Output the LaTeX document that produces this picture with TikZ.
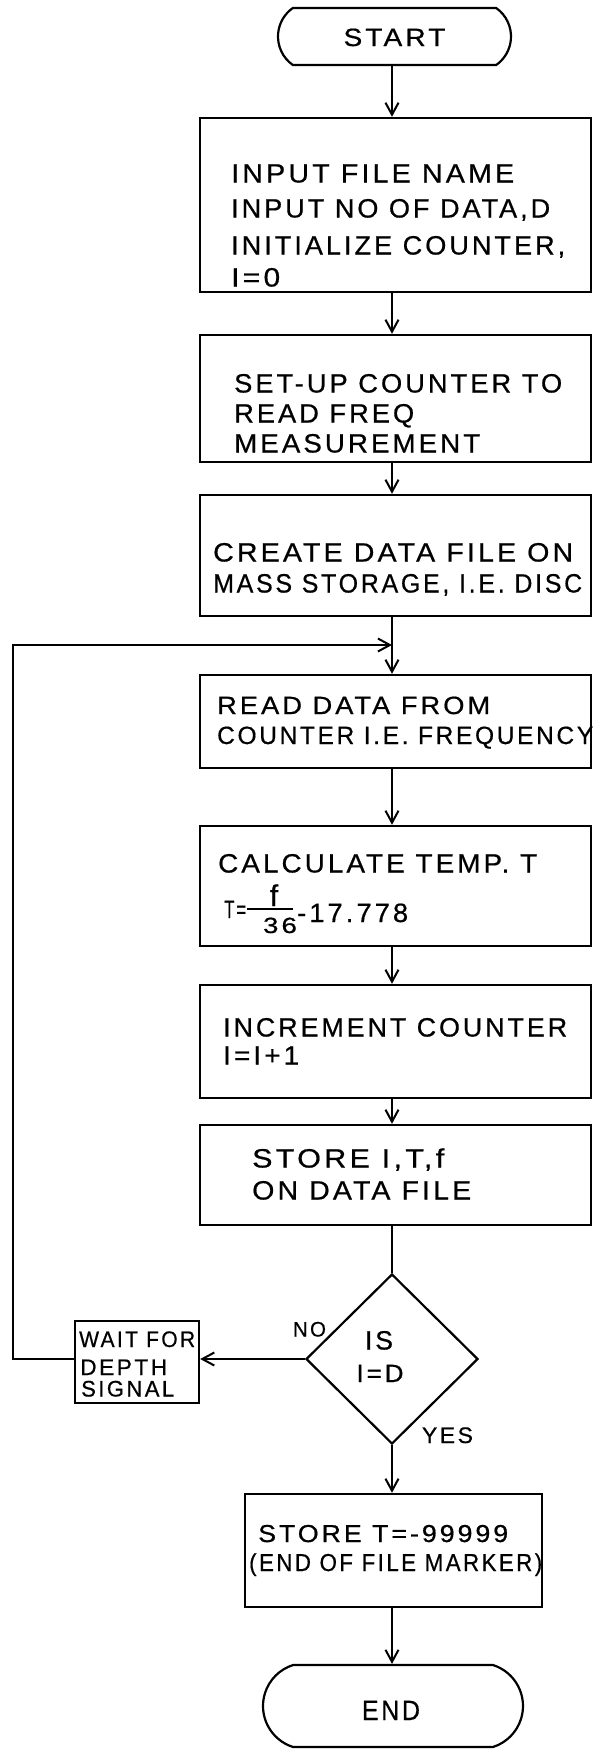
\documentclass[tikz,border=0pt]{standalone}
\usepackage{fontspec}
\usepackage{graphicx}
\newfontfamily\lett{Liberation Sans}[LetterSpace=11,FakeBold=0.6]
\usetikzlibrary{arrows.meta,shapes.geometric,shapes.misc}
\newcommand{\fw}[2]{\resizebox{#1pt}{\height}{#2}}
\begin{document}
\begin{tikzpicture}[x=1pt,y=-1pt,
  box/.style={draw, line width=2.4pt, inner sep=0pt},
  con/.style={line width=2pt},
  arr/.style={con, -{Straight Barb[length=12pt,width=13pt]}},
  txt/.style={anchor=base west, inner sep=0pt, font=\lett\fontsize{26.5pt}{30pt}\selectfont},
  txtm/.style={txt, font=\lett\fontsize{25pt}{30pt}\selectfont},
  txts/.style={txt, font=\lett\fontsize{24.5pt}{30pt}\selectfont},
  txtw/.style={txt, font=\lett\fontsize{22.5pt}{26pt}\selectfont},
  ctr/.style={anchor=base, inner sep=0pt}
]
\useasboundingbox (0,0) rectangle (593,1749);

% terminals, boxes, decision
\node[draw, rounded rectangle, rounded rectangle arc length=110, line width=2.2pt,
      minimum width=233pt, minimum height=57pt, inner sep=0pt] (start) at (394.5,36.5) {};
\node[box, minimum width=391pt, minimum height=174pt] (b1) at (395.5,205) {};
\node[box, minimum width=391pt, minimum height=127pt] (b2) at (395.5,398.5) {};
\node[box, minimum width=391pt, minimum height=121pt] (b3) at (395.5,555.5) {};
\node[box, minimum width=391pt, minimum height=93pt]  (b4) at (395.5,721.5) {};
\node[box, minimum width=391pt, minimum height=120pt] (b5) at (395.5,886) {};
\node[box, minimum width=391pt, minimum height=113pt] (b6) at (395.5,1041.5) {};
\node[box, minimum width=391pt, minimum height=100pt] (b7) at (395.5,1175) {};
\node[draw, diamond, line width=2.2pt, minimum width=172pt, minimum height=170pt, inner sep=0pt] (dia) at (392,1359) {};
\node[box, minimum width=124pt, minimum height=82pt] (wait) at (137,1362) {};
\node[box, minimum width=297pt, minimum height=113pt] (b8) at (393.5,1550.5) {};
\node[draw, rounded rectangle, rounded rectangle arc length=145, line width=2.2pt,
      minimum width=260pt, minimum height=82pt, inner sep=0pt] (end) at (393,1706) {};

% texts
\node[ctr, font=\lett\fontsize{25pt}{30pt}\selectfont] (tstart) at (394.5,46) {\fw{102}{START}};
\node[txt] (t1a) at (231,182.5) {\fw{283}{INPUT FILE NAME}};
\node[txt] (t1b) at (231,217.5) {\fw{319}{INPUT NO OF DATA,D}};
\node[txt] (t1c) at (231,254.5) {\fw{334}{INITIALIZE COUNTER,}};
\node[txt] (t1d) at (231,286.5) {\fw{49}{I=0}};
\node[txt] (t2a) at (234,392.5) {\fw{328}{SET-UP COUNTER TO}};
\node[txt] (t2b) at (234,422.5) {\fw{180}{READ FREQ}};
\node[txt] (t2c) at (234,452.5) {\fw{246}{MEASUREMENT}};
\node[txt] (t3a) at (213,561.5) {\fw{360}{CREATE DATA FILE ON}};
\node[txt] (t3b) at (213,592.5) {\fw{369}{MASS STORAGE, I.E. DISC}};
\node[txtm] (t4a) at (217,714) {\fw{273}{READ DATA FROM}};
\node[txtm] (t4b) at (217,744) {\fw{376}{COUNTER I.E. FREQUENCY}};
\node[txt] (t5a) at (218,872.5) {\fw{319}{CALCULATE TEMP. T}};
\node[txtm] (t5b) at (224,918) {\fw{22}{T=}};
\node[ctr, font=\lett\fontsize{30pt}{30pt}\selectfont] (t5f) at (274,906) {f};
\node[ctr, font=\lett\fontsize{22pt}{26pt}\selectfont] (t5d) at (280,933) {\fw{34}{36}};
\draw[con] (t5b.base east |- 0,909) ++(1,0) coordinate (fbl) -- ++(46,0) coordinate (fbr);
\node[txt] (t5c) at (297,922) {\fw{111}{-17.778}};
\node[txt] (t6a) at (223,1036.5) {\fw{344}{INCREMENT COUNTER}};
\node[txt] (t6b) at (223,1064.5) {\fw{76}{I=I+1}};
\node[txt] (t7a) at (252,1167.5) {\fw{192}{STORE I,T,f}};
\node[txt] (t7b) at (252,1199.5) {\fw{219}{ON DATA FILE}};
\node[ctr, font=\lett\fontsize{26.5pt}{30pt}\selectfont] (tis) at (379,1349.5) {\fw{28}{IS}};
\node[ctr, font=\lett\fontsize{25pt}{30pt}\selectfont] (tid) at (380,1382) {\fw{47}{I=D}};
\node[ctr, font=\lett\fontsize{21pt}{26pt}\selectfont] (tno) at (309.5,1336.5) {\fw{33}{NO}};
\node[ctr, font=\lett\fontsize{22.5pt}{26pt}\selectfont] (tyes) at (447.5,1443) {\fw{51}{YES}};
\node[txtw] (twa) at (79,1347) {\fw{116}{WAIT FOR}};
\node[txtw] (twb) at (80,1375) {\fw{87}{DEPTH}};
\node[txtw] (twc) at (81,1396.5) {\fw{93}{SIGNAL}};
\node[txts] (t8a) at (258,1542) {\fw{250}{STORE T=-99999}};
\node[txts] (t8b) at (249,1571) {\fw{293}{(END OF FILE MARKER)}};
\node[ctr, font=\lett\fontsize{28pt}{30pt}\selectfont] (tend) at (391,1720) {\fw{58}{END}};

% connectors
\coordinate (col) at (392,0);
\coordinate (lx) at (13,0);
\coordinate (join) at (392,645);
\draw[arr] (start.south -| col) -- (b1.north -| col);
\draw[arr] (b1.south -| col) -- (b2.north -| col);
\draw[arr] (b2.south -| col) -- (b3.north -| col);
\draw[arr] (b3.south -| col) -- (b4.north -| col);
\draw[arr] (b4.south -| col) -- (b5.north -| col);
\draw[arr] (b5.south -| col) -- (b6.north -| col);
\draw[arr] (b6.south -| col) -- (b7.north -| col);
\draw[con] (b7.south -| col) -- (dia.north);
\draw[arr] (dia.west) -- (dia.west -| wait.east);
\draw[arr] (wait.west |- dia.west) -| (lx |- join) -- (join);
\draw[arr] (dia.south) -- (b8.north -| dia.south);
\draw[arr] (b8.south -| col) -- (end.north -| col);
\end{tikzpicture}
\end{document}
